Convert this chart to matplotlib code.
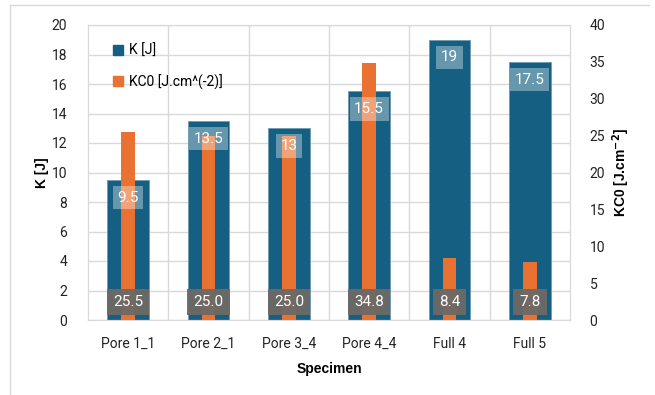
import matplotlib
matplotlib.use("Agg")
import matplotlib.pyplot as plt
from matplotlib.lines import Line2D
from matplotlib.patches import Patch

specimens = ["Pore 1_1", "Pore 2_1", "Pore 3_4", "Pore 4_4", "Full 4", "Full 5"]
k_values = [9.5, 13.5, 13, 15.5, 19, 17.5]
kc0_values = [25.5, 25.0, 25.0, 34.8, 8.4, 7.8]

BLUE = "#156082"
ORANGE = "#E97132"
GRID = "#d9d9d9"

plt.rcParams["font.family"] = ["Roboto", "DejaVu Sans"]


def main():
    fig = plt.figure(figsize=(6.55, 3.95), dpi=100)
    ax = fig.add_axes([88 / 655, 75 / 395, 482 / 655, 295 / 395])
    ax2 = ax.twinx()

    x = list(range(len(specimens)))
    ax.bar(x, k_values, width=0.52, color=BLUE, edgecolor="#6f9ab0",
           linewidth=0.6, zorder=2)
    ax2.bar(x, kc0_values, width=0.17, color=ORANGE, zorder=2)

    ax.set_xlim(-0.5, len(specimens) - 0.5)
    ax.set_ylim(0, 20)
    ax2.set_ylim(0, 40)
    ax.set_yticks(range(0, 21, 2))
    ax2.set_yticks(range(0, 41, 5))
    ax.set_xticks(x)
    ax.set_xticklabels(specimens)
    ax.set_xticks([i + 0.5 for i in x[:-1]], minor=True)

    ax.set_axisbelow(True)
    ax.grid(axis="y", color=GRID, linewidth=1)
    ax.grid(axis="x", which="minor", color=GRID, linewidth=1)
    ax.tick_params(which="both", length=0, labelsize=10, colors="#222222")
    ax.tick_params(axis="x", pad=12)
    ax.tick_params(axis="y", pad=15)
    ax2.tick_params(length=0, labelsize=10, colors="#222222", pad=14)
    for a in (ax, ax2):
        for s in a.spines.values():
            s.set_color(GRID)

    # data labels: K near the top of each blue bar
    for xi, k in zip(x, k_values):
        ax2.text(xi, k - 1.2, f"{k:g}", transform=ax.transData, ha="center",
                 va="center", color="white", fontsize=11, zorder=5,
                 bbox=dict(boxstyle="square,pad=0.3", facecolor="white",
                           alpha=0.35, edgecolor="none"))
    # data labels: KC0 at the bottom
    for xi, kc in zip(x, kc0_values):
        ax2.text(xi, 1.2, f"{kc:.1f}", transform=ax.transData, ha="center",
                 va="center", color="white", fontsize=11, zorder=5,
                 bbox=dict(boxstyle="square,pad=0.4", facecolor="#6d6966",
                           alpha=0.95, edgecolor="none"))

    ax.set_xlabel("Specimen", fontsize=10, fontweight="bold",
                  family="Liberation Sans", labelpad=8)
    ax.set_ylabel("K [J]", fontsize=10, fontweight="bold",
                  family="Liberation Sans", labelpad=2)
    ax2.set_ylabel("KC0 [J.cm$^{\\mathbf{-2}}$]", fontsize=10,
                   fontweight="bold", family="Liberation Sans", labelpad=4)

    handles = [Patch(color=BLUE), Patch(color=ORANGE)]
    ax2.legend(handles, ["K [J]", "KC0 [J.cm^(-2)]"], loc="upper left",
               bbox_to_anchor=(0.025, 0.98), frameon=False, fontsize=10,
               handlelength=0.75, handleheight=0.75, handletextpad=0.4,
               labelspacing=1.2)

    # outer frame of the original chart
    fy = 1 - 5 / 395
    fx0, fx1 = 10 / 655, 649 / 655
    fig.add_artist(Line2D([fx0, fx0], [0, fy], color=GRID, lw=1))
    fig.add_artist(Line2D([fx0, fx1], [fy, fy], color=GRID, lw=1))

    fig.savefig("out.png", dpi=100)


if __name__ == "__main__":
    main()
